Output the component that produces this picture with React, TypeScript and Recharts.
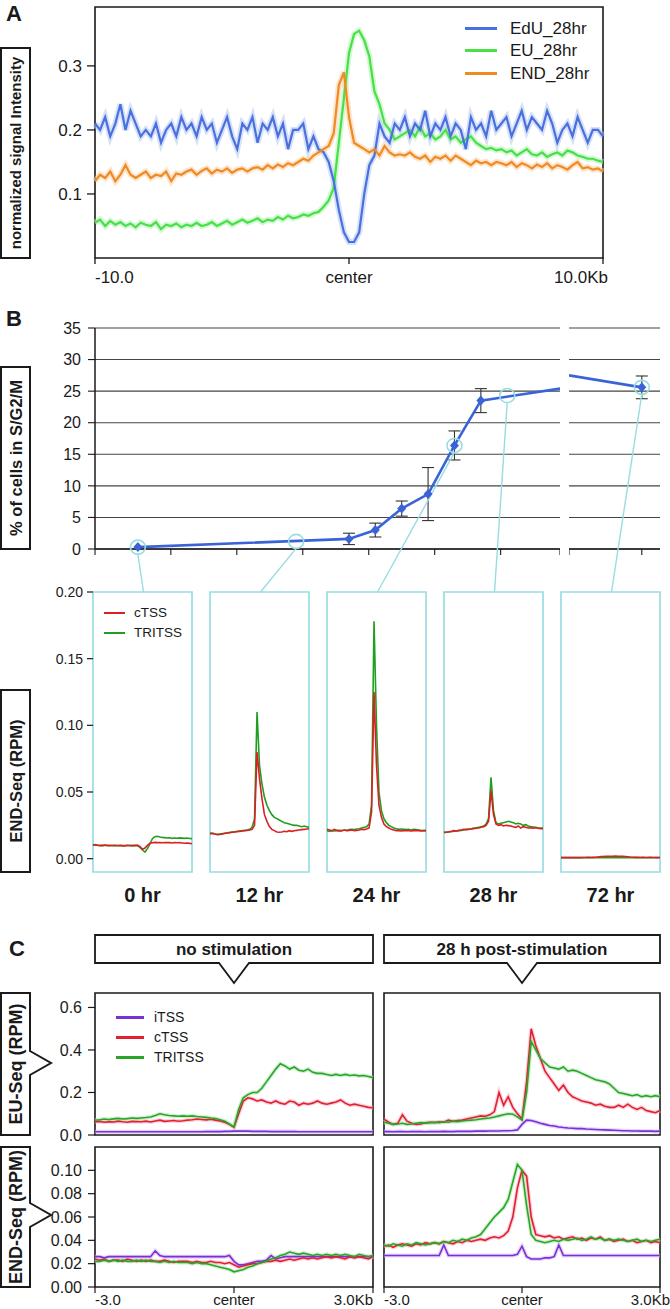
import React from 'react';
import {
  LineChart,
  ComposedChart,
  Line,
  Scatter,
  XAxis,
  YAxis,
  CartesianGrid,
  ReferenceArea,
  ErrorBar,
} from 'recharts';

const FONT = '"Liberation Sans", Arial, Helvetica, sans-serif';
const NARROW = '"Liberation Sans Narrow", "Liberation Sans", Arial, sans-serif';
const INK = '#1a1a1a';
const CYAN = '#98dde1';

// ---------------- Panel A data ----------------
const A_X = Array.from({ length: 101 }, (_, i) => Math.round((-10 + i * 0.2) * 10) / 10);
const A_EDU = [
  0.21, 0.2, 0.22, 0.19, 0.21, 0.24, 0.2, 0.23, 0.21, 0.19,
  0.2, 0.19, 0.21, 0.18, 0.2, 0.21, 0.19, 0.22, 0.2, 0.21,
  0.19, 0.22, 0.2, 0.21, 0.18, 0.2, 0.22, 0.19, 0.17, 0.21,
  0.2, 0.22, 0.18, 0.21, 0.2, 0.22, 0.19, 0.21, 0.17, 0.2,
  0.2, 0.21, 0.17, 0.19, 0.17, 0.165, 0.15, 0.12, 0.075, 0.04,
  0.025,
  0.025, 0.04, 0.1, 0.145, 0.16, 0.21, 0.19, 0.18, 0.21, 0.2,
  0.22, 0.19, 0.21, 0.2, 0.23, 0.19, 0.21, 0.2, 0.22, 0.19,
  0.21, 0.2, 0.17, 0.22, 0.2, 0.21, 0.19, 0.23, 0.2, 0.21,
  0.22, 0.19, 0.21, 0.23, 0.2, 0.22, 0.21, 0.2, 0.23, 0.21,
  0.18, 0.2, 0.21, 0.19, 0.22, 0.2, 0.18, 0.2, 0.2, 0.19,
];
const A_EU = [
  0.055, 0.06, 0.05, 0.058, 0.052, 0.056, 0.05, 0.054, 0.048, 0.055,
  0.052, 0.05, 0.056, 0.045, 0.052, 0.05, 0.054, 0.048, 0.052, 0.05,
  0.055, 0.05, 0.052, 0.056, 0.05, 0.054, 0.058, 0.052, 0.056, 0.06,
  0.055, 0.058, 0.062, 0.056, 0.06, 0.058, 0.064, 0.06, 0.066, 0.062,
  0.064, 0.068, 0.066, 0.07, 0.072, 0.08, 0.09, 0.11, 0.18, 0.25,
  0.32,
  0.35, 0.355, 0.34, 0.315, 0.26, 0.24, 0.21, 0.2, 0.185, 0.19,
  0.195, 0.2, 0.19, 0.205, 0.19, 0.195, 0.185, 0.19, 0.2, 0.185,
  0.19, 0.18, 0.185, 0.19, 0.18, 0.175, 0.17, 0.172, 0.168, 0.17,
  0.165, 0.168, 0.16, 0.165, 0.17, 0.162, 0.16, 0.165, 0.158, 0.162,
  0.165, 0.16, 0.168, 0.165, 0.16, 0.158, 0.155, 0.155, 0.152, 0.15,
];
const A_END = [
  0.12, 0.13, 0.125, 0.135, 0.12, 0.13, 0.145, 0.13, 0.125, 0.13,
  0.135, 0.125, 0.13, 0.128, 0.135, 0.12, 0.132, 0.13, 0.135, 0.138,
  0.13, 0.136, 0.14, 0.132, 0.138, 0.135, 0.14, 0.133, 0.138, 0.14,
  0.135, 0.14, 0.142, 0.138, 0.145, 0.14, 0.146, 0.142, 0.148, 0.145,
  0.15, 0.155, 0.152, 0.16, 0.165, 0.17, 0.175, 0.195, 0.27, 0.29,
  0.22,
  0.18, 0.175, 0.17, 0.165, 0.17, 0.16, 0.175, 0.165, 0.16, 0.162,
  0.16, 0.165, 0.158, 0.155, 0.16, 0.15, 0.158, 0.155, 0.16, 0.152,
  0.16, 0.155, 0.15, 0.145, 0.152, 0.148, 0.15, 0.145, 0.15, 0.148,
  0.145, 0.15, 0.142, 0.148, 0.145, 0.14, 0.146, 0.142, 0.148, 0.14,
  0.145, 0.142, 0.138, 0.145, 0.15, 0.14, 0.142, 0.138, 0.14, 0.135,
];
const A_SERIES = [
  { key: 'eu', name: 'EU_28hr', color: '#47e047', halo: '#b4f2b4' },
  { key: 'edu', name: 'EdU_28hr', color: '#4a70e0', halo: '#b3c6f4' },
  { key: 'end', name: 'END_28hr', color: '#f28a24', halo: '#f9cfa3' },
];
const A_LEGEND = ['edu', 'eu', 'end'];
const A_X_DOMAIN = [-10, 10];
const A_X_TICKS = [-10, 0, 10];
const A_X_LABELS = ['-10.0', 'center', '10.0Kb'];
const A_Y_DOMAIN = [0, 0.392];
const A_Y_TICKS = [0.1, 0.2, 0.3];

// ---------------- Panel B data ----------------
const B_TIMES = [0, 16, 18, 20, 22, 24, 26];
const B_PCT = [0.3, 1.6, 3.0, 6.4, 8.7, 16.4, 23.5];
const B_ERR = [0, 0.9, 1.1, 1.2, 4.2, 2.3, 1.9];
const B_BREAK_T = 32;
const B_BREAK_PCT = 25.4;
const B_LATE_T = [64, 72];
const B_LATE_PCT = [27.5, 25.6];
const B_LATE_ERR = [0, 1.8];
const B_MARK_T = [0, 12, 24, 28];
const B_MARK_PCT = [0.3, 1.2, 16.4, 24.3];
const B_MARK_LATE_T = [72];
const B_MARK_LATE_PCT = [25.6];
const B_Y_TICKS = [0, 5, 10, 15, 20, 25, 30, 35];
const B_X_DOMAIN = [-3.25, 32];
const B_X_TICKS = [-3.25, 2.5, 7.5, 12.5, 17.5, 22.5, 27.5, 32];
const B_LATE_DOMAIN = [64, 74];
const B_LATE_TICKS = [64, 72];

// Small multiples (END-Seq per time point)
const M_LABELS = ['0 hr', '12 hr', '24 hr', '28 hr', '72 hr'];
const M_X = Array.from({ length: 41 }, (_, i) => i);
const M0_R = [0.01, 0.0105, 0.01, 0.0098, 0.01, 0.0102, 0.0098, 0.01, 0.0097, 0.01, 0.0099, 0.01, 0.0096, 0.0098, 0.01, 0.0097, 0.0099, 0.0098, 0.0102, 0.009, 0.007, 0.008, 0.01, 0.0115, 0.012, 0.0122, 0.012, 0.0121, 0.0119, 0.012, 0.0121, 0.012, 0.0118, 0.0121, 0.0119, 0.012, 0.0118, 0.0116, 0.0117, 0.0115, 0.0112];
const M0_G = [0.0105, 0.0102, 0.0099, 0.01, 0.0098, 0.0101, 0.0099, 0.0097, 0.01, 0.0098, 0.0097, 0.0099, 0.0098, 0.0097, 0.0099, 0.01, 0.0098, 0.01, 0.0096, 0.0085, 0.0065, 0.005, 0.0075, 0.011, 0.015, 0.0165, 0.0168, 0.0163, 0.016, 0.0158, 0.0155, 0.0157, 0.0152, 0.0155, 0.0153, 0.0156, 0.0154, 0.0152, 0.0155, 0.0151, 0.015];
const M12_R = [0.019, 0.0188, 0.0185, 0.018, 0.0182, 0.0185, 0.019, 0.0192, 0.0195, 0.0198, 0.02, 0.0202, 0.0205, 0.0207, 0.021, 0.0212, 0.0215, 0.022, 0.025, 0.08, 0.06, 0.045, 0.033, 0.028, 0.024, 0.022, 0.021, 0.02, 0.0198, 0.02, 0.0205, 0.0202, 0.021, 0.0205, 0.021, 0.0212, 0.0215, 0.0218, 0.022, 0.0222, 0.0225];
const M12_G = [0.0188, 0.0192, 0.0185, 0.0182, 0.0185, 0.0188, 0.019, 0.0195, 0.0197, 0.02, 0.0202, 0.0205, 0.0208, 0.021, 0.0212, 0.0215, 0.022, 0.0235, 0.03, 0.11, 0.07, 0.056, 0.046, 0.04, 0.036, 0.033, 0.031, 0.03, 0.029, 0.028, 0.027, 0.0265, 0.026, 0.0255, 0.025, 0.025, 0.0245, 0.024, 0.0245, 0.024, 0.0235];
const M24_R = [0.022, 0.0215, 0.021, 0.022, 0.0212, 0.0208, 0.021, 0.0215, 0.021, 0.0212, 0.0215, 0.021, 0.0212, 0.0215, 0.022, 0.0218, 0.0222, 0.023, 0.035, 0.125, 0.07, 0.04, 0.031, 0.026, 0.024, 0.023, 0.022, 0.0215, 0.021, 0.021, 0.0208, 0.021, 0.0212, 0.021, 0.0208, 0.021, 0.0212, 0.021, 0.0208, 0.021, 0.021];
const M24_G = [0.021, 0.0205, 0.021, 0.0208, 0.021, 0.0212, 0.021, 0.0215, 0.0212, 0.0218, 0.022, 0.0218, 0.0222, 0.0225, 0.023, 0.0235, 0.024, 0.026, 0.04, 0.178, 0.1, 0.05, 0.036, 0.03, 0.027, 0.025, 0.024, 0.023, 0.0225, 0.022, 0.0222, 0.022, 0.0218, 0.022, 0.0215, 0.022, 0.0218, 0.0215, 0.0212, 0.021, 0.021];
const M28_R = [0.02, 0.0198, 0.0202, 0.0205, 0.021, 0.0208, 0.0212, 0.0215, 0.022, 0.0218, 0.022, 0.0222, 0.0225, 0.0228, 0.023, 0.0235, 0.024, 0.025, 0.028, 0.051, 0.033, 0.026, 0.025, 0.0255, 0.0245, 0.025, 0.0248, 0.0245, 0.024, 0.0235, 0.0245, 0.023, 0.024, 0.0235, 0.023, 0.0232, 0.0228, 0.0232, 0.0228, 0.0225, 0.0225];
const M28_G = [0.0195, 0.0198, 0.02, 0.0202, 0.0205, 0.0208, 0.021, 0.0212, 0.0215, 0.022, 0.0222, 0.0225, 0.023, 0.0232, 0.0235, 0.024, 0.0245, 0.026, 0.03, 0.061, 0.036, 0.027, 0.026, 0.0265, 0.027, 0.0275, 0.028, 0.0275, 0.027, 0.026, 0.0265, 0.026, 0.025, 0.0255, 0.0245, 0.024, 0.0238, 0.0235, 0.0232, 0.023, 0.0228];
const M72_R = [0.0008, 0.0008, 0.0009, 0.0008, 0.0008, 0.0009, 0.0008, 0.0009, 0.0008, 0.0009, 0.0009, 0.001, 0.0009, 0.001, 0.0011, 0.0013, 0.0015, 0.0016, 0.0017, 0.0018, 0.0018, 0.0018, 0.0019, 0.0018, 0.0018, 0.0017, 0.0016, 0.0014, 0.0012, 0.0011, 0.001, 0.001, 0.0009, 0.001, 0.0009, 0.0009, 0.001, 0.0009, 0.0009, 0.0008, 0.0009];
const M72_G = [0.0009, 0.0008, 0.0008, 0.0009, 0.0008, 0.0008, 0.0009, 0.0008, 0.0009, 0.0008, 0.0008, 0.0009, 0.0008, 0.0008, 0.0009, 0.0008, 0.0009, 0.0008, 0.0008, 0.0009, 0.0008, 0.0009, 0.0008, 0.0008, 0.0009, 0.0008, 0.0009, 0.0008, 0.0008, 0.0009, 0.0008, 0.0009, 0.0008, 0.0008, 0.0009, 0.0008, 0.0009, 0.0008, 0.0009, 0.0008, 0.0009];
const M_RED = [M0_R, M12_R, M24_R, M28_R, M72_R];
const M_GREEN = [M0_G, M12_G, M24_G, M28_G, M72_G];
const M_Y_DOMAIN = [-0.01, 0.2];
const M_Y_TICKS = [0, 0.05, 0.1, 0.15, 0.2];

// ---------------- Panel C data ----------------
const C_X = Array.from({ length: 61 }, (_, i) => Math.round((-3 + i * 0.1) * 10) / 10);
const TL_I = [0.015, 0.015, 0.015, 0.015, 0.015, 0.015, 0.015, 0.015, 0.015, 0.015, 0.015, 0.015, 0.015, 0.015, 0.015, 0.015, 0.015, 0.015, 0.015, 0.015, 0.015, 0.015, 0.015, 0.015, 0.016, 0.016, 0.016, 0.016, 0.017, 0.017, 0.018, 0.018, 0.018, 0.018, 0.017, 0.017, 0.017, 0.017, 0.016, 0.016, 0.016, 0.016, 0.016, 0.016, 0.015, 0.015, 0.015, 0.015, 0.015, 0.015, 0.015, 0.015, 0.015, 0.015, 0.015, 0.015, 0.015, 0.015, 0.015, 0.015, 0.015];
const TL_C = [0.062, 0.064, 0.06, 0.063, 0.061, 0.065, 0.062, 0.06, 0.064, 0.063, 0.062, 0.065, 0.061, 0.066, 0.07, 0.064, 0.066, 0.068, 0.065, 0.067, 0.07, 0.072, 0.075, 0.073, 0.071, 0.074, 0.07, 0.066, 0.06, 0.05, 0.036, 0.1, 0.16, 0.175, 0.17, 0.16, 0.165, 0.155, 0.15, 0.16, 0.15, 0.145, 0.16, 0.155, 0.14, 0.15, 0.145, 0.15, 0.16, 0.15, 0.145, 0.15, 0.155, 0.165, 0.15, 0.14, 0.145, 0.14, 0.135, 0.13, 0.128];
const TL_T = [0.07, 0.072, 0.075, 0.073, 0.076, 0.078, 0.075, 0.077, 0.08, 0.078, 0.08, 0.082, 0.085, 0.092, 0.1, 0.095, 0.092, 0.09, 0.088, 0.09, 0.088, 0.09, 0.087, 0.085, 0.083, 0.08, 0.078, 0.072, 0.065, 0.052, 0.038, 0.12, 0.175, 0.19, 0.2, 0.2, 0.22, 0.25, 0.28, 0.31, 0.335, 0.325, 0.31, 0.32, 0.305, 0.3, 0.31, 0.295, 0.29, 0.29, 0.285, 0.28, 0.285, 0.28, 0.285, 0.28, 0.282, 0.278, 0.28, 0.275, 0.27];
const TR_I = [0.016, 0.016, 0.015, 0.016, 0.016, 0.015, 0.016, 0.016, 0.016, 0.015, 0.016, 0.016, 0.016, 0.017, 0.016, 0.016, 0.017, 0.017, 0.017, 0.017, 0.018, 0.018, 0.018, 0.019, 0.019, 0.019, 0.02, 0.02, 0.021, 0.024, 0.05, 0.07, 0.068, 0.062, 0.055, 0.05, 0.045, 0.042, 0.038, 0.035, 0.033, 0.032, 0.03, 0.03, 0.028, 0.027, 0.026, 0.025, 0.024, 0.023, 0.022, 0.021, 0.02, 0.02, 0.019, 0.019, 0.018, 0.018, 0.018, 0.017, 0.018];
const TR_C = [0.075, 0.06, 0.05, 0.055, 0.095, 0.065, 0.055, 0.05, 0.052, 0.058, 0.06, 0.058, 0.062, 0.06, 0.07, 0.065, 0.068, 0.07, 0.075, 0.08, 0.085, 0.09, 0.088, 0.095, 0.11, 0.2, 0.14, 0.18, 0.13, 0.1, 0.075, 0.25, 0.5, 0.42, 0.36, 0.3, 0.27, 0.24, 0.21, 0.235, 0.2, 0.18, 0.17, 0.16, 0.155, 0.15, 0.14, 0.145, 0.135, 0.13, 0.13, 0.14, 0.13, 0.145, 0.13, 0.12, 0.13, 0.115, 0.11, 0.105, 0.115];
const TR_T = [0.06, 0.055, 0.05, 0.052, 0.055, 0.05, 0.052, 0.055, 0.058, 0.056, 0.058, 0.06, 0.058, 0.062, 0.06, 0.065, 0.063, 0.066, 0.068, 0.07, 0.072, 0.075, 0.078, 0.08, 0.085, 0.09, 0.095, 0.1, 0.098, 0.085, 0.07, 0.2, 0.44, 0.4, 0.36, 0.34, 0.32, 0.315, 0.31, 0.32, 0.3, 0.305, 0.3, 0.29, 0.28, 0.27, 0.26, 0.255, 0.25, 0.24, 0.22, 0.2, 0.195, 0.19, 0.185, 0.19, 0.18, 0.185, 0.18, 0.185, 0.18];
const BL_I = [0.026, 0.026, 0.025, 0.026, 0.026, 0.026, 0.026, 0.026, 0.026, 0.026, 0.026, 0.026, 0.026, 0.031, 0.027, 0.026, 0.026, 0.026, 0.026, 0.026, 0.026, 0.026, 0.026, 0.026, 0.026, 0.026, 0.026, 0.026, 0.026, 0.027, 0.022, 0.019, 0.019, 0.02, 0.021, 0.022, 0.022, 0.023, 0.027, 0.024, 0.025, 0.026, 0.026, 0.026, 0.026, 0.026, 0.026, 0.026, 0.026, 0.026, 0.026, 0.026, 0.026, 0.026, 0.026, 0.026, 0.026, 0.026, 0.026, 0.026, 0.026];
const BL_C = [0.024, 0.023, 0.024, 0.022, 0.023, 0.023, 0.022, 0.024, 0.023, 0.022, 0.023, 0.022, 0.023, 0.022, 0.022, 0.023, 0.022, 0.021, 0.022, 0.022, 0.022, 0.021, 0.022, 0.021, 0.021, 0.022, 0.021, 0.021, 0.02, 0.021, 0.019, 0.017, 0.018, 0.019, 0.02, 0.02, 0.021, 0.022, 0.022, 0.023, 0.022, 0.023, 0.024, 0.023, 0.024, 0.025, 0.024, 0.025, 0.024, 0.025, 0.026, 0.025, 0.026, 0.025, 0.024, 0.026, 0.025, 0.026, 0.025, 0.024, 0.026];
const BL_T = [0.022, 0.022, 0.023, 0.022, 0.023, 0.022, 0.023, 0.022, 0.022, 0.023, 0.022, 0.023, 0.022, 0.022, 0.021, 0.022, 0.021, 0.022, 0.021, 0.021, 0.021, 0.02, 0.021, 0.02, 0.02, 0.019, 0.018, 0.017, 0.016, 0.015, 0.013, 0.014, 0.015, 0.017, 0.018, 0.02, 0.021, 0.022, 0.024, 0.025, 0.027, 0.028, 0.03, 0.029, 0.028, 0.029, 0.028, 0.027, 0.028, 0.027, 0.028, 0.027, 0.028, 0.027, 0.028, 0.027, 0.026, 0.028, 0.027, 0.026, 0.027];
const BR_I = [0.027, 0.027, 0.027, 0.027, 0.027, 0.027, 0.027, 0.027, 0.027, 0.027, 0.027, 0.027, 0.027, 0.036, 0.027, 0.027, 0.027, 0.027, 0.027, 0.027, 0.027, 0.027, 0.027, 0.027, 0.027, 0.027, 0.027, 0.027, 0.027, 0.028, 0.035, 0.026, 0.024, 0.024, 0.024, 0.025, 0.025, 0.026, 0.036, 0.027, 0.027, 0.027, 0.027, 0.027, 0.027, 0.027, 0.027, 0.027, 0.027, 0.027, 0.027, 0.027, 0.027, 0.027, 0.027, 0.027, 0.027, 0.027, 0.027, 0.027, 0.027];
const BR_C = [0.035, 0.036, 0.034, 0.036, 0.037, 0.036, 0.035, 0.037, 0.036, 0.038, 0.037, 0.038, 0.037, 0.039, 0.038, 0.037, 0.039, 0.038, 0.04, 0.039, 0.04, 0.041, 0.04, 0.042, 0.043, 0.042, 0.044, 0.048, 0.06, 0.085, 0.1, 0.095, 0.06, 0.045, 0.044, 0.043, 0.044, 0.042, 0.043, 0.041, 0.042, 0.043, 0.041, 0.042, 0.04, 0.042, 0.041, 0.043, 0.04, 0.041, 0.039, 0.04, 0.041, 0.039, 0.04, 0.038, 0.039, 0.04, 0.038, 0.039, 0.038];
const BR_T = [0.036, 0.035, 0.037, 0.036, 0.035, 0.037, 0.036, 0.038, 0.037, 0.036, 0.037, 0.038, 0.037, 0.039, 0.038, 0.04, 0.039, 0.041, 0.04, 0.042, 0.043, 0.045, 0.05, 0.055, 0.06, 0.064, 0.068, 0.075, 0.09, 0.105, 0.1, 0.07, 0.045, 0.04, 0.039, 0.038, 0.039, 0.04, 0.039, 0.041, 0.04, 0.041, 0.042, 0.04, 0.041, 0.043, 0.041, 0.042, 0.04, 0.041, 0.04, 0.041, 0.04, 0.039, 0.04, 0.041, 0.039, 0.04, 0.039, 0.04, 0.041];
const C_SERIES = [
  { key: 'i', name: 'iTSS', color: '#7a2fd8', halo: '#d6b8f5' },
  { key: 'c', name: 'cTSS', color: '#e2202e', halo: '#f6b3c6' },
  { key: 't', name: 'TRITSS', color: '#2aa52a', halo: '#b2e6b2' },
];
const C_X_TICKS = [-3, 0, 3];
const C_X_LABELS = ['-3.0', 'center', '3.0Kb'];
const C_EU_DOMAIN = [0, 0.668];
const C_EU_TICKS = [0, 0.2, 0.4, 0.6];
const C_END_DOMAIN = [0, 0.12];
const C_END_TICKS = [0, 0.02, 0.04, 0.06, 0.08, 0.1];

// ---------------- Layout ----------------
type Rect = { l: number; t: number; w: number; h: number };
const A_PLOT: Rect = { l: 95, t: 7, w: 508, h: 251 };
const B_PLOT: Rect = { l: 95, t: 328, w: 465, h: 221 };
const B_LATE_PLOT: Rect = { l: 569, t: 328, w: 91, h: 221 };
const M_LEFTS = [93, 210, 327, 444, 561];
const M_W = 99;
const M_T = 592;
const M_H = 280;
const C_PLOTS: Rect[] = [
  { l: 95, t: 993, w: 278, h: 142 },
  { l: 384, t: 993, w: 276, h: 142 },
  { l: 95, t: 1147, w: 278, h: 140 },
  { l: 384, t: 1147, w: 276, h: 140 },
];

const makeXTick = (ticks: number[], labels: string[], size: number, lastDx: number) => (props: any) => {
  const { x, y, payload } = props;
  const idx = ticks.indexOf(payload.value);
  const n = ticks.length;
  const anchor = idx === 0 ? 'start' : idx === n - 1 ? 'end' : 'middle';
  return (
    <text x={x + (idx === n - 1 ? lastDx : 0)} y={y} dy="0.71em" textAnchor={anchor} fontSize={size} fontFamily={FONT} fill={INK}>
      {labels[idx]}
    </text>
  );
};

function LegendList(props: { left: number; top: number; items: { name: string; color: string }[]; lineW: number; gap: number; rowH: number; size: number; font: string; lw: number }) {
  const { left, top, items, lineW, gap, rowH, size, font, lw } = props;
  return (
    <div style={{ position: 'absolute', left, top }}>
      {items.map((it) => (
        <div key={it.name} style={{ height: rowH, display: 'flex', alignItems: 'center' }}>
          <div style={{ width: lineW, height: lw, background: it.color }} />
          <span style={{ marginLeft: gap, fontSize: size, fontFamily: font, color: INK, lineHeight: 1, whiteSpace: 'nowrap' }}>{it.name}</span>
        </div>
      ))}
    </div>
  );
}

// ---------------- Panel A ----------------
function PanelA() {
  const padL = 60, padT = 7, padR = 12, padB = 32;
  const data = A_X.map((x, i) => ({ x, edu: A_EDU[i], eu: A_EU[i], end: A_END[i] }));
  return (
    <div style={{ position: 'absolute', left: A_PLOT.l - padL, top: A_PLOT.t - padT }}>
      <LineChart width={A_PLOT.w + padL + padR} height={A_PLOT.h + padT + padB} data={data} margin={{ top: padT, right: padR, bottom: 0, left: 0 }}>
        <XAxis dataKey="x" type="number" domain={A_X_DOMAIN} ticks={A_X_TICKS} interval={0} height={padB} axisLine={false} tickLine={{ stroke: INK, strokeWidth: 1.3 }} tickSize={6} tickMargin={7} tick={makeXTick(A_X_TICKS, A_X_LABELS, 17, 5)} />
        <YAxis type="number" width={padL} domain={A_Y_DOMAIN} ticks={A_Y_TICKS} interval={0} axisLine={false} tickLine={{ stroke: INK, strokeWidth: 1.3 }} tickSize={8} tickMargin={5} tick={{ fontSize: 17, fontFamily: FONT, fill: INK }} tickFormatter={(v: number) => v.toFixed(1)} />
        {A_SERIES.map((s) => (
          <Line key={s.key + 'h'} dataKey={s.key} stroke={s.halo} strokeWidth={6} strokeOpacity={0.55} dot={false} isAnimationActive={false} legendType="none" />
        ))}
        {A_SERIES.map((s) => (
          <Line key={s.key} dataKey={s.key} name={s.name} stroke={s.color} strokeWidth={2.2} dot={false} isAnimationActive={false} />
        ))}
        <ReferenceArea x1={A_X_DOMAIN[0]} x2={A_X_DOMAIN[1]} y1={A_Y_DOMAIN[0]} y2={A_Y_DOMAIN[1]} fill="none" stroke={INK} strokeWidth={1.6} ifOverflow="visible" />
      </LineChart>
    </div>
  );
}

// ---------------- Panel B ----------------
const diamond = (props: any) => {
  const { cx, cy } = props;
  if (cx == null || cy == null) return <g />;
  return <polygon points={`${cx},${cy - 5} ${cx + 4.5},${cy} ${cx},${cy + 5} ${cx - 4.5},${cy}`} fill="#3a63d8" />;
};

const markerShape = (originX: number, originY: number) => (props: any) => {
  const { cx, cy, payload } = props;
  if (cx == null || cy == null) return <g />;
  const tx = M_LEFTS[payload.box] + M_W / 2 + 1 - originX;
  const ty = M_T - originY;
  return (
    <g>
      <line x1={cx} y1={cy + 7} x2={tx} y2={ty} stroke={CYAN} strokeWidth={1.4} />
      <ellipse cx={cx} cy={cy} rx={7.5} ry={7} fill="none" stroke={CYAN} strokeWidth={1.6} />
    </g>
  );
};

function PanelBTop() {
  const padL = 60, padT = 10, padR = 0, padB = 47;
  const ox = B_PLOT.l - padL, oy = B_PLOT.t - padT;
  const lineData = [...B_TIMES.map((t, i) => ({ t, v: B_PCT[i] })), { t: B_BREAK_T, v: B_BREAK_PCT }];
  const pts = B_TIMES.map((t, i) => ({ t, v: B_PCT[i], e: B_ERR[i] }));
  const marks = B_MARK_T.map((t, i) => ({ t, v: B_MARK_PCT[i], box: i }));
  return (
    <div style={{ position: 'absolute', left: ox, top: oy }}>
      <ComposedChart width={B_PLOT.w + padL + padR} height={B_PLOT.h + padT + padB} margin={{ top: padT, right: padR, bottom: padB - 10, left: 0 }}>
        <CartesianGrid horizontal vertical={false} stroke="#444" strokeWidth={1.1} />
        <XAxis dataKey="t" type="number" domain={B_X_DOMAIN} ticks={B_X_TICKS} interval={0} height={10} axisLine={{ stroke: INK, strokeWidth: 1.5 }} tickLine={{ stroke: INK, strokeWidth: 1.1 }} tickSize={6} tickFormatter={() => ''} />
        <YAxis type="number" width={padL} domain={[0, 35]} ticks={B_Y_TICKS} interval={0} axisLine={{ stroke: INK, strokeWidth: 1.5 }} tickLine={{ stroke: INK, strokeWidth: 1.1 }} tickSize={7} tickMargin={7} tick={{ fontSize: 16, fontFamily: FONT, fill: INK }} />
        <Scatter data={marks} dataKey="v" shape={markerShape(ox, oy)} isAnimationActive={false} />
        <Line data={lineData} dataKey="v" stroke="#3a63d8" strokeWidth={2.6} dot={false} isAnimationActive={false} />
        <Scatter data={pts} dataKey="v" shape={diamond} isAnimationActive={false}>
          <ErrorBar dataKey="e" direction="y" width={6} stroke="#333" strokeWidth={1.1} />
        </Scatter>
      </ComposedChart>
    </div>
  );
}

function PanelBLate() {
  const padL = 0, padT = 10, padR = 4, padB = 47;
  const ox = B_LATE_PLOT.l - padL, oy = B_LATE_PLOT.t - padT;
  const lineData = B_LATE_T.map((t, i) => ({ t, v: B_LATE_PCT[i] }));
  const pts = [{ t: B_LATE_T[1], v: B_LATE_PCT[1], e: B_LATE_ERR[1] }];
  const marks = B_MARK_LATE_T.map((t, i) => ({ t, v: B_MARK_LATE_PCT[i], box: 4 }));
  return (
    <div style={{ position: 'absolute', left: ox, top: oy }}>
      <ComposedChart width={B_LATE_PLOT.w + padL + padR} height={B_LATE_PLOT.h + padT + padB} margin={{ top: padT, right: padR, bottom: padB - 10, left: 0 }}>
        <CartesianGrid horizontal vertical={false} stroke="#444" strokeWidth={1.1} />
        <XAxis dataKey="t" type="number" domain={B_LATE_DOMAIN} ticks={B_LATE_TICKS} interval={0} height={10} axisLine={{ stroke: INK, strokeWidth: 1.5 }} tickLine={{ stroke: INK, strokeWidth: 1.1 }} tickSize={6} tickFormatter={() => ''} />
        <YAxis type="number" hide domain={[0, 35]} ticks={B_Y_TICKS} interval={0} />
        <Scatter data={marks} dataKey="v" shape={markerShape(ox, oy)} isAnimationActive={false} />
        <Line data={lineData} dataKey="v" stroke="#3a63d8" strokeWidth={2.6} dot={false} isAnimationActive={false} />
        <Scatter data={pts} dataKey="v" shape={diamond} isAnimationActive={false}>
          <ErrorBar dataKey="e" direction="y" width={6} stroke="#333" strokeWidth={1.1} />
        </Scatter>
      </ComposedChart>
    </div>
  );
}

function Multiple({ k }: { k: number }) {
  const withY = k === 0;
  const padL = withY ? 60 : 1, padT = 12, padR = 2, padB = 12;
  const data = M_X.map((x, i) => ({ x, r: M_RED[k][i], g: M_GREEN[k][i] }));
  return (
    <div style={{ position: 'absolute', left: M_LEFTS[k] - padL, top: M_T - padT }}>
      <LineChart width={M_W + padL + padR} height={M_H + padT + padB} data={data} margin={{ top: padT, right: padR, bottom: padB, left: withY ? 0 : padL }}>
        <XAxis dataKey="x" type="number" domain={[0, 40]} hide />
        <YAxis type="number" hide={!withY} width={withY ? padL : 0} domain={M_Y_DOMAIN} ticks={M_Y_TICKS} interval={0} axisLine={false} tickLine={{ stroke: INK, strokeWidth: 1.2 }} tickSize={6} tickMargin={4} tick={{ fontSize: 14, fontFamily: FONT, fill: INK }} tickFormatter={(v: number) => v.toFixed(2)} />
        <Line dataKey="g" name="TRITSS" stroke="#1f9f1f" strokeWidth={1.6} dot={false} isAnimationActive={false} />
        <Line dataKey="r" name="cTSS" stroke="#dc1f24" strokeWidth={1.6} dot={false} isAnimationActive={false} />
        <ReferenceArea x1={0} x2={40} y1={M_Y_DOMAIN[0]} y2={M_Y_DOMAIN[1]} fill="none" stroke={CYAN} strokeWidth={1.7} ifOverflow="visible" />
      </LineChart>
    </div>
  );
}

// ---------------- Panel C ----------------
const C_DATA = [
  [TL_I, TL_C, TL_T],
  [TR_I, TR_C, TR_T],
  [BL_I, BL_C, BL_T],
  [BR_I, BR_C, BR_T],
];

function PanelCChart({ k }: { k: number }) {
  const plot = C_PLOTS[k];
  const left = k % 2 === 0;
  const bottom = k >= 2;
  const padL = left ? 60 : 1, padT = bottom ? 6 : 10, padR = left ? 2 : 12, padB = bottom ? 26 : 10;
  const domain = bottom ? C_END_DOMAIN : C_EU_DOMAIN;
  const ticks = bottom ? C_END_TICKS : C_EU_TICKS;
  const [si, sc, st] = C_DATA[k];
  const data = C_X.map((x, i) => ({ x, i: si[i], c: sc[i], t: st[i] }));
  return (
    <div style={{ position: 'absolute', left: plot.l - padL, top: plot.t - padT }}>
      <LineChart width={plot.w + padL + padR} height={plot.h + padT + padB} data={data} margin={{ top: padT, right: padR, bottom: bottom ? 0 : padB, left: left ? 0 : padL }}>
        <XAxis dataKey="x" type="number" domain={[-3, 3]} ticks={C_X_TICKS} interval={0} hide={!bottom} height={bottom ? padB : 0} axisLine={false} tickLine={{ stroke: INK, strokeWidth: 1.2 }} tickSize={6} tickMargin={1} tick={makeXTick(C_X_TICKS, C_X_LABELS, 15, left ? 0 : 10)} />
        <YAxis type="number" hide={!left} width={left ? padL : 0} domain={domain} ticks={ticks} interval={0} axisLine={false} tickLine={{ stroke: INK, strokeWidth: 1.2 }} tickSize={7} tickMargin={6} tick={{ fontSize: 16, fontFamily: FONT, fill: INK }} tickFormatter={(v: number) => (bottom ? v.toFixed(2) : v.toFixed(1))} />
        {C_SERIES.map((s) => (
          <Line key={s.key + 'h'} dataKey={s.key} stroke={s.halo} strokeWidth={4} strokeOpacity={0.6} dot={false} isAnimationActive={false} legendType="none" />
        ))}
        {C_SERIES.map((s) => (
          <Line key={s.key} dataKey={s.key} name={s.name} stroke={s.color} strokeWidth={1.6} dot={false} isAnimationActive={false} />
        ))}
        <ReferenceArea x1={-3} x2={3} y1={domain[0]} y2={domain[1]} fill="none" stroke={INK} strokeWidth={1.6} ifOverflow="visible" />
      </LineChart>
    </div>
  );
}

// ---------------- Annotations ----------------
function Annotations() {
  const vlabel = (cx: number, cy: number, text: string, size: number) => (
    <text x={cx} y={cy} transform={`rotate(-90 ${cx} ${cy})`} textAnchor="middle" dominantBaseline="central" fontSize={size} fontWeight="bold" fontFamily={FONT} fill={INK}>
      {text}
    </text>
  );
  const header = (l: number, r: number, text: string) => {
    const c = (l + r) / 2;
    return (
      <g>
        <path d={`M${l},935 H${r} V963 H${c + 15} L${c},983 L${c - 15},963 H${l} Z`} fill="#fff" stroke={INK} strokeWidth={1.8} />
        <text x={c} y={955} textAnchor="middle" fontSize={17} fontWeight="bold" fontFamily={FONT} fill={INK}>{text}</text>
      </g>
    );
  };
  return (
    <svg width={670} height={1309} style={{ position: 'absolute', left: 0, top: 0 }}>
      <text x={6} y={21} fontSize={22} fontWeight="bold" fontFamily={FONT} fill={INK}>A</text>
      <rect x={1} y={48} width={29} height={210} fill="none" stroke={INK} strokeWidth={2} />
      {vlabel(15.5, 153, 'normalized signal Intensity', 15)}

      <text x={6} y={326} fontSize={22} fontWeight="bold" fontFamily={FONT} fill={INK}>B</text>
      <rect x={1} y={367} width={29} height={182} fill="none" stroke={INK} strokeWidth={2} />
      {vlabel(15.5, 458, '% of cells in S/G2/M', 16.5)}
      <rect x={1} y={690} width={29} height={182} fill="none" stroke={INK} strokeWidth={2} />
      {vlabel(15.5, 781, 'END-Seq (RPM)', 16.5)}
      {M_LABELS.map((lab, i) => (
        <text key={lab} x={M_LEFTS[i] + M_W / 2} y={902} textAnchor="middle" fontSize={20} fontWeight="bold" fontFamily={FONT} fill={INK}>{lab}</text>
      ))}

      <text x={9} y={956} fontSize={22} fontWeight="bold" fontFamily={FONT} fill={INK}>C</text>
      {header(95, 373, 'no stimulation')}
      {header(384, 660, '28 h post-stimulation')}
      <path d="M1,993 H30 V1051 L51,1063 L30,1075 V1135 H1 Z" fill="#fff" stroke={INK} strokeWidth={2} />
      {vlabel(15.5, 1064, 'EU-Seq (RPM)', 18)}
      <path d="M1,1147 H30 V1203 L51,1215 L30,1227 V1287 H1 Z" fill="#fff" stroke={INK} strokeWidth={2} />
      {vlabel(15.5, 1217, 'END-Seq (RPM)', 18)}
    </svg>
  );
}

export default function App() {
  const aLegend = A_LEGEND.map((k) => A_SERIES.find((s) => s.key === k)!).map((s) => ({ name: s.name, color: s.color }));
  return (
    <div style={{ position: 'absolute', left: 0, top: 0, width: 670, height: 1309, background: '#fff', overflow: 'hidden' }}>
      <Annotations />
      <PanelA />
      <LegendList left={465} top={17} items={aLegend} lineW={32} gap={13} rowH={22.5} size={17} font={FONT} lw={3} />
      <PanelBTop />
      <PanelBLate />
      {M_LABELS.map((_, k) => (
        <Multiple key={k} k={k} />
      ))}
      <LegendList left={104} top={603} items={[{ name: 'cTSS', color: '#dc1f24' }, { name: 'TRITSS', color: '#1f9f1f' }]} lineW={21} gap={9} rowH={20} size={13.5} font={FONT} lw={2} />
      {C_PLOTS.map((_, k) => (
        <PanelCChart key={k} k={k} />
      ))}
      <LegendList left={116} top={1007} items={C_SERIES.map((s) => ({ name: s.name, color: s.color }))} lineW={28} gap={10} rowH={20} size={14} font={NARROW} lw={3} />
    </div>
  );
}
